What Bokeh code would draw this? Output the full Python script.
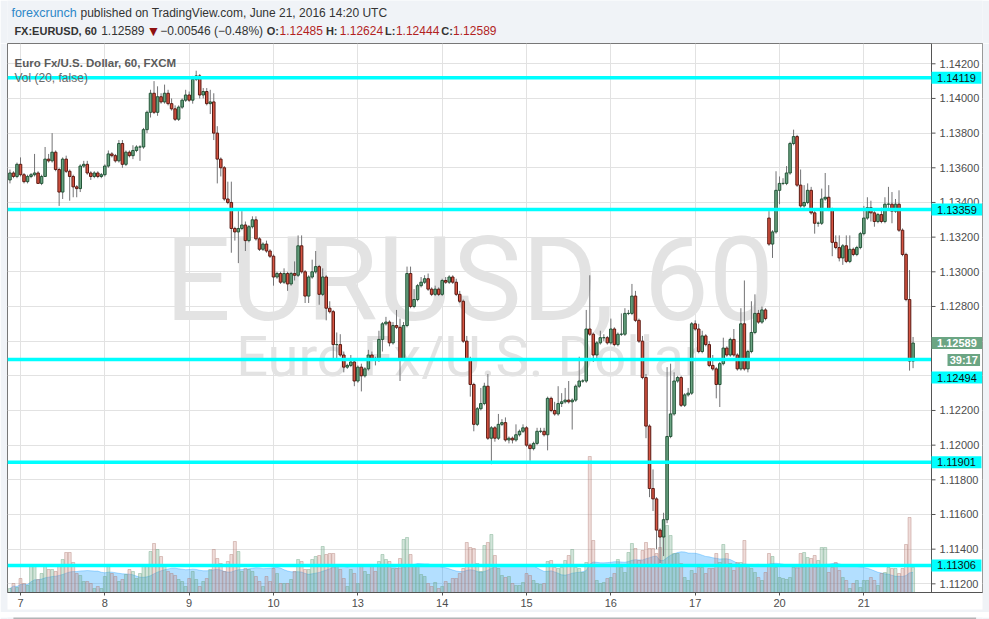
import pandas as pd
from bokeh.plotting import figure
from bokeh.layouts import column
from bokeh.models import (Range1d, FixedTicker, Span, Label, ColumnDataSource, BoxAnnotation)
from bokeh.core.properties import value
from bokeh.embed import file_html
from bokeh.resources import INLINE

# ---------------- data (EURUSD, 60 min, FXCM) ----------------
day_tick_idx = [3, 27, 51, 75, 99, 123, 147, 171, 195, 219, 243]
day_labels = ["7", "8", "9", "10", "13", "14", "15", "16", "17", "20", "21"]
price_ticks = [1.112, 1.114, 1.116, 1.118, 1.120, 1.122, 1.124, 1.126, 1.128,
               1.130, 1.132, 1.134, 1.136, 1.138, 1.140, 1.142]
price_tick_labels = ["1.11200", "1.11400", "1.11600", "1.11800", "1.12000", "1.12200",
                     "1.12400", "1.12600", "1.12800", "1.13000", "1.13200", "1.13400",
                     "1.13600", "1.13800", "1.14000", "1.14200"]
level_prices = [1.14119, 1.13359, 1.12494, 1.11901, 1.11306]
level_texts = ["1.14119", "1.13359", "1.12494", "1.11901", "1.11306"]
last_price = 1.12589
last_text = "1.12589"
countdown = "39:17"

opens = [
    1.1353, 1.1357, 1.1355, 1.1362, 1.1356, 1.1352, 1.1355, 1.1356, 1.1357, 1.1351, 1.1355, 1.1365,
    1.1364, 1.1369, 1.1359, 1.1346, 1.1365, 1.1358, 1.1355, 1.1349, 1.1348, 1.1361, 1.1362, 1.1357,
    1.1355, 1.1357, 1.1355, 1.1356, 1.1361, 1.1368, 1.1367, 1.1364, 1.1374, 1.1362, 1.1369, 1.1367,
    1.1370, 1.1372, 1.1372, 1.1382, 1.1392, 1.1403, 1.1392, 1.1401, 1.1398, 1.1403, 1.1397, 1.1394,
    1.1388, 1.1395, 1.1399, 1.1402, 1.1399, 1.1411, 1.1413, 1.1402, 1.1404, 1.1397, 1.1398, 1.1380,
    1.1365, 1.1360, 1.1342, 1.1340, 1.1325, 1.1323, 1.1325, 1.1327, 1.1318, 1.1326, 1.1330, 1.1319,
    1.1313, 1.1316, 1.1312, 1.1309, 1.1297, 1.1299, 1.1294, 1.1299, 1.1293, 1.1299, 1.1298, 1.1315,
    1.1300, 1.1286, 1.1297, 1.1300, 1.1303, 1.1287, 1.1297, 1.1279, 1.1277, 1.1258, 1.1258, 1.1252,
    1.1245, 1.1246, 1.1248, 1.1237, 1.1245, 1.1240, 1.1244, 1.1252, 1.1250, 1.1249, 1.1261, 1.1270,
    1.1271, 1.1259, 1.1269, 1.1268, 1.1250, 1.1269, 1.1299, 1.1280, 1.1284, 1.1292, 1.1294, 1.1296,
    1.1290, 1.1287, 1.1290, 1.1287, 1.1295, 1.1294, 1.1297, 1.1294, 1.1287, 1.1283, 1.1260, 1.1250,
    1.1235, 1.1212, 1.1221, 1.1224, 1.1234, 1.1204, 1.1210, 1.1204, 1.1212, 1.1213, 1.1203, 1.1204,
    1.1203, 1.1206, 1.1208, 1.1210, 1.1200, 1.1198, 1.1201, 1.1208, 1.1208, 1.1206, 1.1227, 1.1220,
    1.1218, 1.1224, 1.1225, 1.1226, 1.1225, 1.1226, 1.1234, 1.1237, 1.1237, 1.1267, 1.1264, 1.1252,
    1.1259, 1.1262, 1.1262, 1.1259, 1.1267, 1.1258, 1.1264, 1.1264, 1.1276, 1.1276, 1.1286, 1.1272,
    1.1260, 1.1239, 1.1211, 1.1175, 1.1169, 1.1151, 1.1147, 1.1157, 1.1205, 1.1218, 1.1237, 1.1239,
    1.1223, 1.1229, 1.1230, 1.1270, 1.1267, 1.1254, 1.1263, 1.1258, 1.1246, 1.1244, 1.1235, 1.1247,
    1.1256, 1.1252, 1.1261, 1.1252, 1.1244, 1.1270, 1.1244, 1.1254, 1.1265, 1.1276, 1.1271, 1.1278,
    1.1331, 1.1316, 1.1323, 1.1347, 1.1351, 1.1351, 1.1357, 1.1374, 1.1378, 1.1350, 1.1338, 1.1340,
    1.1347, 1.1334, 1.1328, 1.1328, 1.1342, 1.1343, 1.1336, 1.1317, 1.1314, 1.1308, 1.1315, 1.1306,
    1.1313, 1.1310, 1.1314, 1.1322, 1.1331, 1.1337, 1.1334, 1.1329, 1.1333, 1.1329, 1.1339, 1.1339,
    1.1335, 1.1339, 1.1324, 1.1310, 1.1284, 1.12485,
]
highs = [
    1.1359, 1.1358, 1.1363, 1.1366, 1.1357, 1.1356, 1.1357, 1.1368, 1.1358, 1.1356, 1.1372, 1.1368,
    1.1380, 1.1370, 1.1360, 1.1366, 1.1367, 1.1359, 1.1356, 1.1350, 1.1362, 1.1364, 1.1364, 1.1358,
    1.1358, 1.1358, 1.1357, 1.1362, 1.1370, 1.1369, 1.1368, 1.1376, 1.1376, 1.1370, 1.1370, 1.1373,
    1.1373, 1.1373, 1.1383, 1.1393, 1.1405, 1.1410, 1.1407, 1.1403, 1.1408, 1.1405, 1.1400, 1.1396,
    1.1396, 1.1400, 1.1405, 1.1404, 1.1413, 1.1416, 1.1414, 1.1406, 1.1406, 1.1405, 1.1403, 1.1384,
    1.1366, 1.1361, 1.1352, 1.1352, 1.1326, 1.1335, 1.1335, 1.1329, 1.1327, 1.1332, 1.1332, 1.1320,
    1.1317, 1.1318, 1.1313, 1.1310, 1.1300, 1.1300, 1.1302, 1.1300, 1.1300, 1.1306, 1.1321, 1.1321,
    1.1301, 1.1298, 1.1307, 1.1312, 1.1304, 1.1302, 1.1298, 1.1283, 1.1278, 1.1265, 1.1264, 1.1254,
    1.1247, 1.1252, 1.1249, 1.1246, 1.1247, 1.1245, 1.1255, 1.1254, 1.1251, 1.1266, 1.1271, 1.1274,
    1.1272, 1.1271, 1.1278, 1.1273, 1.1271, 1.1303, 1.1303, 1.1290, 1.1293, 1.1297, 1.1298, 1.1299,
    1.1291, 1.1292, 1.1291, 1.1296, 1.1297, 1.1298, 1.1298, 1.1296, 1.1289, 1.1284, 1.1263, 1.1251,
    1.1236, 1.1222, 1.1233, 1.1236, 1.1241, 1.1211, 1.1211, 1.1218, 1.1215, 1.1216, 1.1205, 1.1205,
    1.1212, 1.1209, 1.1212, 1.1211, 1.1201, 1.1202, 1.1210, 1.1210, 1.1210, 1.1228, 1.1228, 1.1225,
    1.1234, 1.1230, 1.1233, 1.1237, 1.1227, 1.1235, 1.1251, 1.1238, 1.1278, 1.1298, 1.1265, 1.1260,
    1.1266, 1.1264, 1.1263, 1.1273, 1.1268, 1.1265, 1.1276, 1.1279, 1.1278, 1.1293, 1.1289, 1.1273,
    1.1263, 1.1241, 1.1212, 1.1186, 1.1170, 1.1152, 1.1161, 1.1245, 1.1247, 1.1242, 1.1240, 1.1240,
    1.1230, 1.1233, 1.1271, 1.1272, 1.1270, 1.1266, 1.1264, 1.1260, 1.1252, 1.1245, 1.1248, 1.1262,
    1.1257, 1.1262, 1.1267, 1.1253, 1.1279, 1.1295, 1.1255, 1.1283, 1.1287, 1.1278, 1.1280, 1.1279,
    1.1335, 1.1324, 1.1358, 1.1355, 1.1354, 1.1361, 1.1375, 1.1382, 1.1379, 1.1359, 1.1350, 1.1351,
    1.1349, 1.1335, 1.1329, 1.1348, 1.1357, 1.1350, 1.1337, 1.1321, 1.1321, 1.1316, 1.1321, 1.1321,
    1.1314, 1.1315, 1.1323, 1.1338, 1.1343, 1.1341, 1.1335, 1.1334, 1.1337, 1.1343, 1.1349, 1.1346,
    1.1342, 1.1347, 1.1325, 1.1311, 1.1301, 1.12624,
]
lows = [
    1.1351, 1.1354, 1.1354, 1.1355, 1.1351, 1.1351, 1.1354, 1.1355, 1.1351, 1.1350, 1.1355, 1.1363,
    1.1363, 1.1358, 1.1338, 1.1342, 1.1357, 1.1341, 1.1343, 1.1343, 1.1346, 1.1360, 1.1356, 1.1353,
    1.1354, 1.1354, 1.1354, 1.1355, 1.1360, 1.1366, 1.1363, 1.1363, 1.1360, 1.1361, 1.1366, 1.1365,
    1.1369, 1.1364, 1.1371, 1.1380, 1.1389, 1.1391, 1.1390, 1.1397, 1.1397, 1.1396, 1.1393, 1.1387,
    1.1387, 1.1394, 1.1398, 1.1398, 1.1397, 1.1410, 1.1400, 1.1400, 1.1396, 1.1391, 1.1376, 1.1351,
    1.1355, 1.1341, 1.1339, 1.1311, 1.1318, 1.1305, 1.1324, 1.1312, 1.1317, 1.1325, 1.1318, 1.1312,
    1.1312, 1.1311, 1.1308, 1.1292, 1.1296, 1.1293, 1.1293, 1.1289, 1.1292, 1.1295, 1.1297, 1.1299,
    1.1282, 1.1282, 1.1296, 1.1299, 1.1281, 1.1286, 1.1272, 1.1276, 1.1250, 1.1250, 1.1251, 1.1242,
    1.1244, 1.1245, 1.1234, 1.1236, 1.1231, 1.1239, 1.1243, 1.1249, 1.1246, 1.1248, 1.1254, 1.1269,
    1.1257, 1.1258, 1.1267, 1.1237, 1.1249, 1.1268, 1.1279, 1.1279, 1.1283, 1.1291, 1.1293, 1.1289,
    1.1286, 1.1286, 1.1286, 1.1286, 1.1293, 1.1293, 1.1293, 1.1286, 1.1282, 1.1259, 1.1249, 1.1228,
    1.1208, 1.1211, 1.1220, 1.1223, 1.1203, 1.1189, 1.1202, 1.1203, 1.1211, 1.1202, 1.1201, 1.1201,
    1.1202, 1.1205, 1.1207, 1.1199, 1.1191, 1.1197, 1.1200, 1.1207, 1.1205, 1.1197, 1.1219, 1.1217,
    1.1217, 1.1222, 1.1224, 1.1224, 1.1209, 1.1225, 1.1233, 1.1236, 1.1236, 1.1263, 1.1248, 1.1250,
    1.1258, 1.1260, 1.1258, 1.1258, 1.1257, 1.1257, 1.1263, 1.1263, 1.1275, 1.1275, 1.1271, 1.1259,
    1.1238, 1.1204, 1.1170, 1.1162, 1.1140, 1.1132, 1.1136, 1.1155, 1.1204, 1.1217, 1.1236, 1.1222,
    1.1222, 1.1228, 1.1229, 1.1266, 1.1253, 1.1253, 1.1257, 1.1245, 1.1243, 1.1227, 1.1222, 1.1246,
    1.1251, 1.1251, 1.1251, 1.1243, 1.1243, 1.1243, 1.1242, 1.1253, 1.1264, 1.1270, 1.1270, 1.1272,
    1.1315, 1.1308, 1.1322, 1.1339, 1.1350, 1.1350, 1.1356, 1.1373, 1.1349, 1.1337, 1.1337, 1.1339,
    1.1333, 1.1322, 1.1326, 1.1327, 1.1341, 1.1335, 1.1309, 1.1313, 1.1306, 1.1304, 1.1305, 1.1305,
    1.1309, 1.1309, 1.1313, 1.1321, 1.1330, 1.1329, 1.1326, 1.1328, 1.1328, 1.1328, 1.1336, 1.1328,
    1.1334, 1.1323, 1.1309, 1.1283, 1.1243, 1.12444,
]
closes = [
    1.1357, 1.1355, 1.1362, 1.1356, 1.1352, 1.1355, 1.1356, 1.1357, 1.1351, 1.1355, 1.1365, 1.1364,
    1.1369, 1.1359, 1.1346, 1.1365, 1.1358, 1.1355, 1.1349, 1.1348, 1.1361, 1.1362, 1.1357, 1.1355,
    1.1357, 1.1355, 1.1356, 1.1361, 1.1368, 1.1367, 1.1364, 1.1374, 1.1362, 1.1369, 1.1367, 1.1370,
    1.1372, 1.1372, 1.1382, 1.1392, 1.1403, 1.1392, 1.1401, 1.1398, 1.1403, 1.1397, 1.1394, 1.1388,
    1.1395, 1.1399, 1.1402, 1.1399, 1.1411, 1.1413, 1.1402, 1.1404, 1.1397, 1.1398, 1.1380, 1.1365,
    1.1360, 1.1342, 1.1340, 1.1325, 1.1323, 1.1325, 1.1327, 1.1318, 1.1326, 1.1330, 1.1319, 1.1313,
    1.1316, 1.1312, 1.1309, 1.1297, 1.1299, 1.1294, 1.1299, 1.1293, 1.1299, 1.1298, 1.1315, 1.1300,
    1.1286, 1.1297, 1.1300, 1.1303, 1.1287, 1.1297, 1.1279, 1.1277, 1.1258, 1.1258, 1.1252, 1.1245,
    1.1246, 1.1248, 1.1237, 1.1245, 1.1240, 1.1244, 1.1252, 1.1250, 1.1249, 1.1261, 1.1270, 1.1271,
    1.1259, 1.1269, 1.1268, 1.1250, 1.1269, 1.1299, 1.1280, 1.1284, 1.1292, 1.1294, 1.1296, 1.1290,
    1.1287, 1.1290, 1.1287, 1.1295, 1.1294, 1.1297, 1.1294, 1.1287, 1.1283, 1.1260, 1.1250, 1.1235,
    1.1212, 1.1221, 1.1224, 1.1234, 1.1204, 1.1210, 1.1204, 1.1212, 1.1213, 1.1203, 1.1204, 1.1203,
    1.1206, 1.1208, 1.1210, 1.1200, 1.1198, 1.1201, 1.1208, 1.1208, 1.1206, 1.1227, 1.1220, 1.1218,
    1.1224, 1.1225, 1.1226, 1.1225, 1.1226, 1.1234, 1.1237, 1.1237, 1.1267, 1.1264, 1.1252, 1.1259,
    1.1262, 1.1262, 1.1259, 1.1267, 1.1258, 1.1264, 1.1264, 1.1276, 1.1276, 1.1286, 1.1272, 1.1260,
    1.1239, 1.1211, 1.1175, 1.1169, 1.1151, 1.1147, 1.1157, 1.1205, 1.1218, 1.1237, 1.1239, 1.1223,
    1.1229, 1.1230, 1.1270, 1.1267, 1.1254, 1.1263, 1.1258, 1.1246, 1.1244, 1.1235, 1.1247, 1.1256,
    1.1252, 1.1261, 1.1252, 1.1244, 1.1270, 1.1244, 1.1254, 1.1265, 1.1276, 1.1271, 1.1278, 1.1273,
    1.1316, 1.1323, 1.1347, 1.1351, 1.1351, 1.1357, 1.1374, 1.1378, 1.1350, 1.1338, 1.1340, 1.1347,
    1.1334, 1.1328, 1.1328, 1.1342, 1.1343, 1.1336, 1.1317, 1.1314, 1.1308, 1.1315, 1.1306, 1.1313,
    1.1310, 1.1314, 1.1322, 1.1331, 1.1337, 1.1334, 1.1329, 1.1333, 1.1329, 1.1339, 1.1339, 1.1335,
    1.1339, 1.1324, 1.1310, 1.1284, 1.12485, 1.12589,
]
volume = [
    4, 9, 5, 14, 9, 7, 27, 27, 13, 19, 27, 23,
    23, 21, 28, 33, 40, 40, 30, 19, 17, 11, 11, 9,
    4, 6, 4, 16, 26, 19, 16, 11, 13, 18, 23, 21,
    14, 19, 27, 28, 41, 49, 43, 36, 26, 21, 19, 17,
    13, 11, 6, 14, 21, 13, 6, 11, 14, 23, 43, 34,
    29, 21, 31, 38, 51, 41, 21, 24, 23, 21, 16, 11,
    6, 16, 11, 24, 19, 9, 9, 9, 13, 21, 33, 31,
    23, 23, 33, 36, 37, 46, 38, 39, 39, 26, 23, 14,
    6, 23, 19, 9, 28, 21, 18, 26, 21, 31, 38, 33,
    31, 24, 24, 34, 53, 55, 38, 28, 26, 18, 16, 9,
    6, 10, 4, 6, 11, 9, 14, 14, 19, 24, 50, 45,
    44, 29, 21, 47, 50, 58, 37, 24, 17, 15, 16, 9,
    7, 7, 10, 19, 17, 12, 9, 8, 9, 31, 32, 25,
    24, 25, 32, 37, 43, 25, 24, 20, 30, 136, 52, 12,
    9, 10, 14, 15, 19, 33, 25, 20, 40, 49, 44, 32,
    42, 50, 44, 44, 39, 45, 57, 67, 57, 39, 39, 29,
    15, 12, 22, 19, 25, 25, 19, 24, 24, 39, 30, 48,
    39, 29, 22, 30, 30, 52, 27, 24, 20, 15, 12, 20,
    39, 36, 25, 15, 14, 13, 15, 25, 25, 39, 40, 35,
    34, 37, 32, 45, 45, 20, 25, 30, 22, 15, 12, 4,
    9, 12, 5, 12, 12, 15, 12, 7, 19, 20, 25, 24,
    24, 19, 24, 48, 75, 25,
]

# ---------------- derived sources ----------------
n = len(closes)
idx = list(range(n))
vol_ma = pd.Series(volume, dtype=float).rolling(20, min_periods=1).mean().tolist()


def subset(cond):
    sel = [i for i in idx if cond(i)]
    return ColumnDataSource(dict(
        x=sel,
        top=[max(opens[i], closes[i]) for i in sel],
        bottom=[min(opens[i], closes[i]) for i in sel],
        vol=[volume[i] for i in sel],
    ))


src_up = subset(lambda i: closes[i] >= opens[i])
src_dn = subset(lambda i: closes[i] < opens[i])
src_all = ColumnDataSource(dict(x=idx, high=highs, low=lows, ma=vol_ma, zero=[0] * n))

BG = "#f0f3f7"
FONT = "Liberation Sans"

# ---------------- header strip ----------------
hf = figure(width=989, height=43, x_range=Range1d(0, 989), y_range=Range1d(43, 0),
            x_axis_type=None, y_axis_type=None, toolbar_location=None, output_backend="svg",
            min_border=0, outline_line_color=None,
            background_fill_color=BG, border_fill_color=BG)


def hdr(x, y, s, color="#333333", bold=False, size="12px"):
    hf.add_layout(Label(x=x, y=y, text=s, text_font=FONT, text_font_size=size,
                        text_font_style="bold" if bold else "normal",
                        text_color=color, text_align="left", text_baseline="middle"))


RED = "#b21f1f"
hdr(4, 12.5, "forexcrunch", color="#2d87c8", size="12.5px")
hdr(74, 12.5, "published on TradingView.com, June 21, 2016 14:20 UTC", size="12px")
hdr(7, 30, "FX:EURUSD, 60", bold=True, size="11px")
hdr(95, 30, "1.12589")
hdr(141, 30.5, "\u25bc", color="#8e1010", size="14px")
hdr(155, 30, "\u22120.00546 (\u22120.48%)")
hdr(263, 30, "O:", bold=True, size="11px")
hdr(276, 30, "1.12485", color=RED)
hdr(323, 30, "H:", bold=True, size="11px")
hdr(337, 30, "1.12624", color=RED)
hdr(383, 30, "L:", bold=True, size="11px")
hdr(394, 30, "1.12444", color=RED)
hdr(440, 30, "C:", bold=True, size="11px")
hdr(452, 30, "1.12589", color=RED)

# ---------------- main chart ----------------
FW, FH = 975, 549          # frame covers the chart and the price-scale strip
X0, X1 = -0.70, 276.76      # index range across the frame
XAX = 262.25                # index where the price scale begins

p = figure(frame_width=FW, frame_height=FH,
           x_range=Range1d(X0, X1), y_range=Range1d(1.1115, 1.14317),
           y_axis_location=None, output_backend="svg", toolbar_location=None,
           min_border_left=7, min_border_right=7, min_border_top=0, min_border_bottom=20,
           background_fill_color="white", border_fill_color=BG,
           outline_line_color="#777777", outline_line_width=1)
p.extra_y_ranges = {"vol": Range1d(0, FH)}

xa = p.xaxis[0]
xa.ticker = FixedTicker(ticks=day_tick_idx)
xa.major_label_overrides = {t: s for t, s in zip(day_tick_idx, day_labels)}
xa.axis_line_color = "#555555"
xa.major_tick_line_color = "#555555"
xa.minor_tick_line_color = None
xa.major_tick_in = 0
xa.major_tick_out = 3
xa.major_label_standoff = 3
xa.major_label_text_color = "#4d4d4d"
xa.major_label_text_font = FONT
xa.major_label_text_font_size = "11px"
if "background_fill_color" in xa.properties():
    xa.background_fill_color = "white"

p.xgrid.ticker = FixedTicker(ticks=day_tick_idx)
p.ygrid.ticker = FixedTicker(ticks=price_ticks)
for g in (p.xgrid[0], p.ygrid[0]):
    g.grid_line_color = "#e2e2e2"
    g.grid_line_width = 1

# price-scale strip background (hides grid there)
p.add_layout(BoxAnnotation(left=XAX, fill_color="white", fill_alpha=1.0,
                           line_color=None, level="underlay"))

# watermark
p.add_layout(Label(x=(X0 + XAX) / 2, y=1.12955, text="EURUSD, 60",
                   text_font="Roboto", text_font_size="116px", text_color="#e3e3e3",
                   text_align="center", text_baseline="alphabetic", level="underlay"))
p.add_layout(Label(x=(X0 + XAX) / 2, y=1.12510, text="Euro Fx/U.S. Dollar",
                   text_font="Roboto", text_font_size="56px", text_color="#e3e3e3",
                   text_align="center", text_baseline="alphabetic", level="underlay"))

# volume MA area + volume bars
p.varea(x="x", y1="zero", y2="ma", source=src_all, y_range_name="vol",
        fill_color="#0496ff", fill_alpha=0.3)
p.line(x="x", y="ma", source=src_all, y_range_name="vol",
       line_color="#0496ff", line_alpha=0.3, line_width=1)
p.vbar(x="x", top="vol", bottom=0, width=0.85, source=src_up, y_range_name="vol",
       fill_color="#6ba583", fill_alpha=0.3, line_color="#6ba583", line_alpha=0.5, line_width=0.8)
p.vbar(x="x", top="vol", bottom=0, width=0.85, source=src_dn, y_range_name="vol",
       fill_color="#c98a80", fill_alpha=0.3, line_color="#b07a72", line_alpha=0.5, line_width=0.8)

# candles
p.segment(x0="x", y0="low", x1="x", y1="high", source=src_all, line_color="#737375", line_width=1)
p.vbar(x="x", top="top", bottom="bottom", width=0.72, source=src_up,
       fill_color="#6ba583", line_color="#225437", line_width=1)
p.vbar(x="x", top="top", bottom="bottom", width=0.72, source=src_dn,
       fill_color="#d75442", line_color="#5b1a13", line_width=1)

# horizontal levels (chart area only)
n_lv = len(level_prices)
p.segment(x0=[X0] * n_lv, x1=[XAX] * n_lv, y0=level_prices, y1=level_prices,
          line_color="#00ffff", line_width=3.5)

# price scale: axis line, ticks, labels
p.add_layout(Span(location=XAX, dimension="height", line_color="#555555", line_width=1))
n_pt = len(price_ticks)
p.ray(x=[XAX] * n_pt, y=price_ticks, length=4, length_units="screen", angle=0,
      line_color="#555555", line_width=1)
p.text(x=[XAX] * n_pt, y=price_ticks, text=price_tick_labels, x_offset=8,
       text_font=value(FONT), text_font_size="11px", text_color="#4d4d4d",
       text_baseline="middle", text_align="left")

# value boxes on the price scale (the one that would collide is pushed down)
SP = "\u2002"
label_shift = {"1.12494": -18}
for lv, t in zip(level_prices, level_texts):
    p.add_layout(Label(x=XAX, y=lv, y_offset=label_shift.get(t, 0), text=SP + t + SP,
                       text_font=FONT, text_font_size="11px", text_color="#111111",
                       text_align="left", text_baseline="middle",
                       background_fill_color="#00ffff", background_fill_alpha=1.0,
                       level="overlay"))
p.add_layout(Label(x=XAX, y=last_price, text=SP + last_text + SP,
                   text_font=FONT, text_font_size="11px", text_font_style="bold",
                   text_color="white", text_align="left", text_baseline="middle",
                   background_fill_color="#6ba583", level="overlay"))
p.add_layout(Label(x=XAX, y=last_price, x_offset=16, y_offset=-17,
                   text="\u2009" + countdown + "\u2009", text_font=FONT,
                   text_font_size="11px", text_font_style="bold", text_color="white",
                   text_align="left", text_baseline="middle",
                   background_fill_color="#6ba583", level="overlay"))

# in-chart legend
p.add_layout(Label(x=7, y=FH - 19, x_units="screen", y_units="screen",
                   text="Euro Fx/U.S. Dollar, 60, FXCM", text_font=FONT,
                   text_font_size="11.5px", text_font_style="bold", text_color="#5a5a5a",
                   text_baseline="middle"))
p.add_layout(Label(x=7, y=FH - 34, x_units="screen", y_units="screen",
                   text="Vol (20, false)", text_font=FONT,
                   text_font_size="12px", text_color="#6a6a6a", text_baseline="middle"))

# ---------------- footer strip (page margin under the chart box) ----------------
ff = figure(width=989, height=7, x_range=Range1d(0, 989), y_range=Range1d(7, 0),
            x_axis_type=None, y_axis_type=None, toolbar_location=None, output_backend="svg",
            min_border=0, outline_line_color=None,
            background_fill_color=BG, border_fill_color=BG)
ff.segment(x0=[6], x1=[982.5], y0=[0.5], y1=[0.5], line_color="#777777", line_width=1)

layout = column(hf, p, ff, spacing=0)
open("out.html", "w").write(file_html(layout, INLINE))
